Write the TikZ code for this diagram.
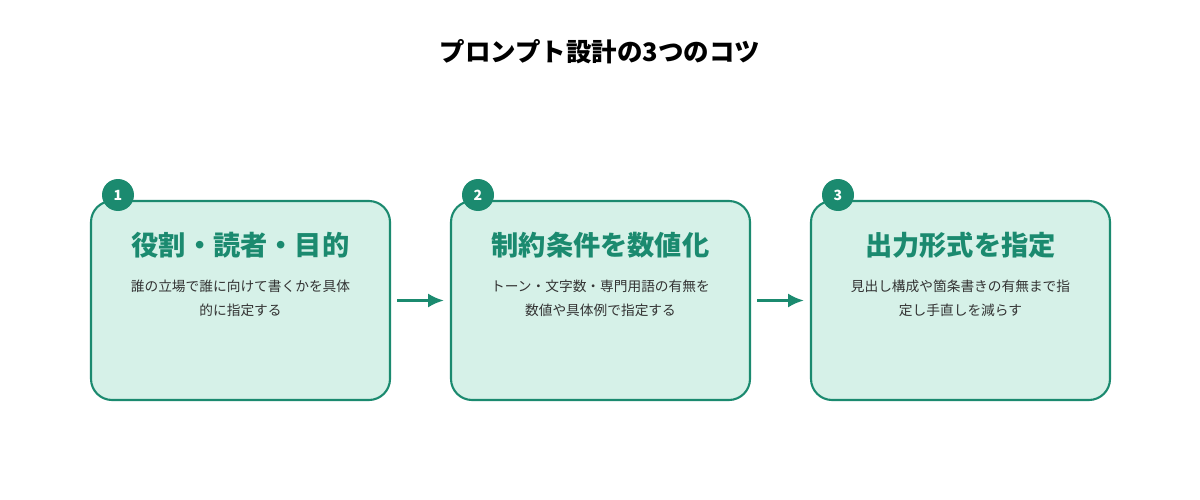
\documentclass[tikz,border=0pt]{standalone}
\usepackage{fontspec}
\setmainfont{Noto Sans CJK JP}
\usetikzlibrary{positioning,arrows.meta,calc}
\definecolor{tipgreen}{HTML}{1B8A6F}
\definecolor{tipfill}{HTML}{D6F1E8}
\definecolor{tiptext}{HTML}{333333}
\tikzset{>={Latex[length=9pt,width=8pt]}}

\begin{document}
\begin{tikzpicture}[x=0.02cm, y=-0.02cm,
    card/.style={draw=tipgreen, fill=tipfill, line width=1.2pt, rounded corners=12pt,
      minimum width=299*0.02cm, minimum height=199*0.02cm},
    badge/.style={circle, fill=tipgreen, text=white, minimum size=32*0.02cm, inner sep=0pt,
      font=\fontsize{8}{9}\selectfont\bfseries},
    head/.style={text=tipgreen, font=\fontsize{15.5}{18}\selectfont\bfseries},
    body/.style={text=tiptext, align=center, font=\fontsize{7.8}{13.6}\selectfont},
    link/.style={->, draw=tipgreen, line width=1.6pt}]
  \useasboundingbox (0,0) rectangle (1200,500);
  \node[font=\fontsize{14.5}{17}\selectfont\bfseries] (title) at (600,52) {プロンプト設計の3つのコツ};
  % cards
  \node[card] (c1) at (240.5,300.5) {};
  \node[card] (c2) at (600.5,300.5) {};
  \node[card] (c3) at (960.5,300.5) {};
  \node[badge] (b1) at (118,195) {1};
  \node[badge] (b2) at (478,195) {2};
  \node[badge] (b3) at (838,195) {3};
  \node[head] (h1) at (240.5,245) {役割・読者・目的};
  \node[head] (h2) at (600.5,245) {制約条件を数値化};
  \node[head] (h3) at (960.5,245) {出力形式を指定};
  \node[body] (t1) at (240.5,298) {誰の立場で誰に向けて書くかを具体\\的に指定する};
  \node[body] (t2) at (600.5,298) {トーン・文字数・専門用語の有無を\\数値や具体例で指定する};
  \node[body] (t3) at (960.5,298) {見出し構成や箇条書きの有無まで指\\定し手直しを減らす};
  % arrows
  \draw[link] ($(c1.east)+(6,0)$) -- ($(c2.west)+(-6,0)$);
  \draw[link] ($(c2.east)+(6,0)$) -- ($(c3.west)+(-6,0)$);
\end{tikzpicture}
\end{document}
